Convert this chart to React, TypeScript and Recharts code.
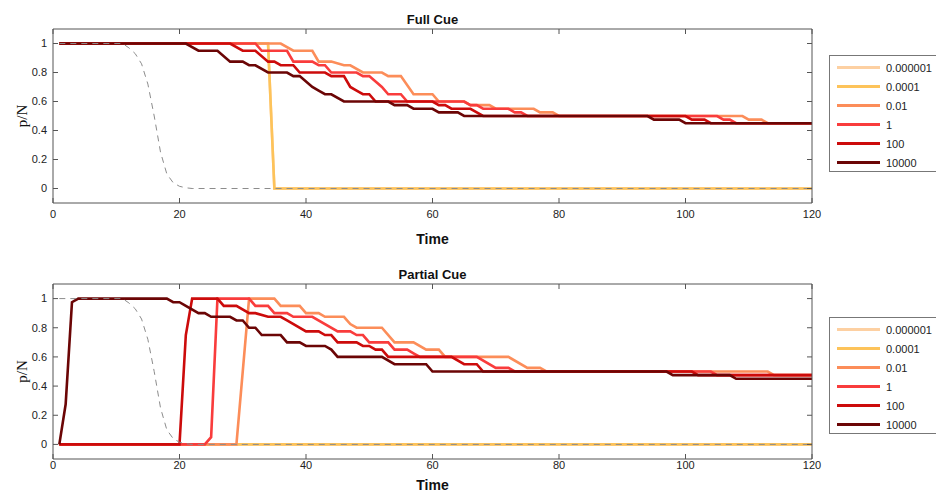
import { LineChart, Line, XAxis, YAxis, Label } from 'recharts';

type Pt = [number, number];

const DOSES = ['0.000001', '0.0001', '0.01', '1', '100', '10000'];
const DOSE_COLORS = ['#fdd0a2', '#fdc35a', '#fc8d59', '#f93c3c', '#cc0b0b', '#6b0505'];
const X_TICKS = [0, 20, 40, 60, 80, 100, 120];
const Y_TICKS = [0, 0.2, 0.4, 0.6, 0.8, 1];

// grey dashed reference curve (cue decay), same in both panels
const cueDecay: Pt[] = [[1, 1], [11, 1], [12, 0.97], [13, 0.93], [14, 0.86], [15, 0.72], [16, 0.5], [17, 0.25], [18, 0.1], [19, 0.04], [20, 0.015], [21, 0.005], [22, 0], [120, 0]];

// Full Cue
const full000001: Pt[] = [[1, 1], [34, 1], [35, 0], [120, 0]];
const full0001: Pt[] = [[1, 1], [34, 1], [35, 0], [120, 0]];
const full001: Pt[] = [[1, 1], [36, 1], [38, 0.95], [41, 0.95], [42, 0.875], [44, 0.875], [46, 0.85], [47, 0.85], [49, 0.8], [52, 0.8], [53, 0.775], [55, 0.775], [57, 0.65], [60, 0.65], [61, 0.6], [65, 0.6], [66, 0.575], [69, 0.575], [70, 0.55], [76, 0.55], [77, 0.525], [79, 0.525], [80, 0.5], [109, 0.5], [110, 0.475], [112, 0.475], [113, 0.45], [120, 0.45]];
const full1: Pt[] = [[1, 1], [32, 1], [33, 0.95], [37, 0.95], [38, 0.875], [41, 0.875], [42, 0.85], [43, 0.85], [44, 0.8], [48, 0.8], [49, 0.775], [50, 0.775], [52, 0.7], [53, 0.65], [55, 0.65], [56, 0.6], [65, 0.6], [66, 0.575], [67, 0.575], [68, 0.55], [72, 0.55], [73, 0.525], [74, 0.525], [75, 0.5], [105, 0.5], [106, 0.475], [107, 0.475], [108, 0.45], [120, 0.45]];
const full100: Pt[] = [[1, 1], [28, 1], [30, 0.95], [32, 0.95], [34, 0.875], [35, 0.875], [36, 0.85], [38, 0.85], [39, 0.8], [43, 0.8], [44, 0.775], [46, 0.775], [47, 0.7], [48, 0.675], [49, 0.65], [50, 0.65], [51, 0.6], [60, 0.6], [61, 0.575], [62, 0.575], [63, 0.55], [66, 0.55], [67, 0.525], [68, 0.5], [100, 0.5], [101, 0.475], [103, 0.475], [104, 0.45], [120, 0.45]];
const full10000: Pt[] = [[1, 1], [21, 1], [23, 0.95], [26, 0.95], [28, 0.875], [30, 0.875], [31, 0.85], [32, 0.85], [34, 0.8], [37, 0.8], [38, 0.775], [39, 0.775], [41, 0.7], [42, 0.675], [43, 0.65], [44, 0.65], [46, 0.6], [53, 0.6], [54, 0.575], [56, 0.575], [57, 0.55], [60, 0.55], [61, 0.525], [64, 0.525], [65, 0.5], [94, 0.5], [95, 0.475], [99, 0.475], [100, 0.45], [120, 0.45]];

// Partial Cue
const partial000001: Pt[] = [[1, 0], [120, 0]];
const partial0001: Pt[] = [[1, 0], [120, 0]];
const partial001: Pt[] = [[1, 0], [29, 0], [31, 1], [35, 1], [36, 0.95], [39, 0.95], [40, 0.9], [42, 0.9], [43, 0.875], [46, 0.875], [47, 0.825], [48, 0.8], [52, 0.8], [54, 0.7], [57, 0.7], [59, 0.65], [61, 0.65], [62, 0.6], [72, 0.6], [75, 0.525], [77, 0.525], [78, 0.5], [113, 0.5], [114, 0.475], [120, 0.475]];
const partial1: Pt[] = [[1, 0], [24, 0], [25, 0.05], [26, 1], [31, 1], [32, 0.95], [34, 0.95], [35, 0.9], [37, 0.9], [38, 0.875], [41, 0.875], [45, 0.775], [47, 0.775], [48, 0.75], [49, 0.75], [50, 0.7], [53, 0.7], [54, 0.65], [56, 0.65], [57, 0.625], [58, 0.6], [67, 0.6], [70, 0.525], [72, 0.525], [73, 0.5], [104, 0.5], [105, 0.475], [120, 0.475]];
const partial100: Pt[] = [[1, 0], [20, 0], [21, 0.75], [22, 1], [26, 1], [27, 0.95], [29, 0.95], [31, 0.9], [32, 0.9], [34, 0.875], [36, 0.875], [37, 0.85], [40, 0.775], [42, 0.775], [43, 0.75], [44, 0.75], [45, 0.7], [48, 0.7], [49, 0.675], [50, 0.675], [51, 0.65], [52, 0.65], [53, 0.6], [63, 0.6], [65, 0.55], [67, 0.55], [68, 0.5], [101, 0.5], [102, 0.475], [120, 0.475]];
const partial10000: Pt[] = [[1, 0], [2, 0.275], [3, 0.975], [4, 1], [18, 1], [19, 0.975], [20, 0.975], [21, 0.95], [23, 0.9], [24, 0.9], [25, 0.875], [28, 0.875], [29, 0.85], [30, 0.85], [31, 0.8], [32, 0.8], [33, 0.75], [36, 0.75], [37, 0.7], [39, 0.7], [40, 0.675], [43, 0.675], [44, 0.65], [45, 0.6], [52, 0.6], [54, 0.55], [59, 0.55], [60, 0.5], [97, 0.5], [98, 0.475], [107, 0.475], [108, 0.45], [120, 0.45]];

const FULL = [full000001, full0001, full001, full1, full100, full10000];
const PARTIAL = [partial000001, partial0001, partial001, partial1, partial100, partial10000];

const SANS = '"Liberation Sans", Arial, sans-serif';
const AXIS = '#555';
const tickStyle = { fontSize: 11, fill: '#222', fontFamily: SANS };
const toRows = (pts: Pt[]) => pts.map(([t, v]) => ({ t, v }));

const YLabel = ({ viewBox }: any) => {
  const cx = 22;
  const cy = viewBox ? viewBox.y + viewBox.height / 2 : 116;
  return (
    <text x={cx} y={cy} transform={`rotate(-90 ${cx} ${cy})`} textAnchor="middle" dominantBaseline="central"
      style={{ fontFamily: '"Liberation Serif", "Times New Roman", serif', fontSize: 15, fill: '#111' }}>
      p/N
    </text>
  );
};

const TimeLabel = ({ viewBox, baseline }: any) => (
  <text x={viewBox.x + viewBox.width / 2} y={viewBox.y + baseline} textAnchor="middle"
    style={{ fontFamily: SANS, fontSize: 14, fontWeight: 'bold', fill: '#111' }}>
    Time
  </text>
);

function DoseLegend({ top }: { top: number }) {
  return (
    <div style={{
      position: 'absolute', left: 829, top, width: 107, height: 117, boxSizing: 'border-box',
      border: '1px solid #777', borderRight: 'none', background: '#fff', paddingTop: 2,
      fontFamily: SANS, fontSize: 11, color: '#222',
    }}>
      {DOSES.map((d, i) => (
        <div key={d} style={{ height: 19, display: 'flex', alignItems: 'center' }}>
          <span style={{ display: 'inline-block', marginLeft: 7, width: 43, height: 2.5, background: DOSE_COLORS[i] }} />
          <span style={{ marginLeft: 6 }}>{d}</span>
        </div>
      ))}
    </div>
  );
}

function CuePanel({ title, series, height, plotHeight, tickGap, timeBaseline, legendTop }: any) {
  const xAxisHeight = height - 29 - plotHeight;
  return (
    <div style={{ position: 'relative', width: 936, height }}>
      <LineChart width={936} height={height} margin={{ top: 28, right: 123, bottom: 0, left: 0 }}>
        <XAxis xAxisId="b" type="number" dataKey="t" domain={[0, 120]} ticks={X_TICKS} allowDataOverflow
          height={xAxisHeight} stroke={AXIS} tickSize={-5} tickMargin={tickGap} tick={tickStyle}>
          <Label content={<TimeLabel baseline={timeBaseline} />} />
        </XAxis>
        <XAxis xAxisId="t" orientation="top" type="number" dataKey="t" domain={[0, 120]} ticks={X_TICKS}
          allowDataOverflow height={1} stroke={AXIS} tickSize={-5} tickFormatter={() => ''} />
        <YAxis yAxisId="l" type="number" domain={[-0.1, 1.1]} ticks={Y_TICKS} allowDataOverflow width={53}
          stroke={AXIS} tickSize={-5} tickMargin={11} tick={tickStyle} tickFormatter={(v: number) => String(+v.toFixed(1))}>
          <Label content={<YLabel />} />
        </YAxis>
        <YAxis yAxisId="r" orientation="right" type="number" domain={[-0.1, 1.1]} ticks={Y_TICKS} allowDataOverflow
          width={1} stroke={AXIS} tickSize={-5} tickFormatter={() => ''} />
        {series.map((s: Pt[], i: number) => (
          <Line key={DOSES[i]} xAxisId="b" yAxisId="l" data={toRows(s)} dataKey="v" name={DOSES[i]}
            type="linear" stroke={DOSE_COLORS[i]} strokeWidth={2.6} dot={false} isAnimationActive={false} />
        ))}
        <Line xAxisId="b" yAxisId="l" data={toRows(cueDecay)} dataKey="v" name="cue" type="linear"
          stroke="#8c8c8c" strokeWidth={1} strokeDasharray="6 5" dot={false} isAnimationActive={false} />
      </LineChart>
      <div style={{
        position: 'absolute', left: 53, width: 759, top: 12, textAlign: 'center',
        fontFamily: SANS, fontSize: 13, fontWeight: 'bold', color: '#111',
      }}>{title}</div>
      <DoseLegend top={legendTop} />
    </div>
  );
}

export default function App() {
  return (
    <div style={{ position: 'absolute', left: 0, top: 0, width: 936, height: 493, background: '#fff' }}>
      <CuePanel title="Full Cue" series={FULL} height={255} plotHeight={174} tickGap={12} timeBaseline={41} legendTop={55} />
      <CuePanel title="Partial Cue" series={PARTIAL} height={238} plotHeight={175} tickGap={7} timeBaseline={30.5} legendTop={62} />
    </div>
  );
}
